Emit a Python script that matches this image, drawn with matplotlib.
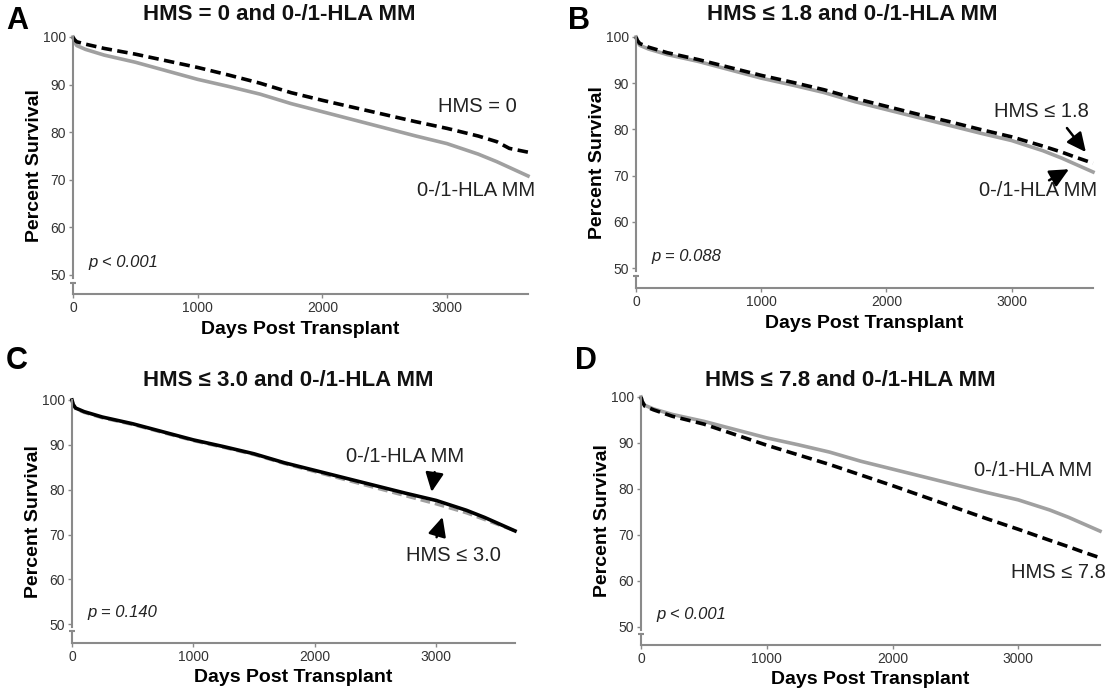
import matplotlib
matplotlib.use("Agg")
import matplotlib.pyplot as plt

plt.rcParams['font.family'] = ['Liberation Sans', 'DejaVu Sans']

days = [0, 10, 30, 100, 250, 500, 750, 1000, 1250, 1500, 1750, 2000,
        2250, 2500, 2750, 3000, 3250, 3400, 3500, 3650]

# 0-/1-HLA MM reference group (same cohort in every panel)
mm_ref = [100, 99.0, 98.2, 97.4, 96.2, 94.7, 92.9, 91.1, 89.6, 88.0, 86.0, 84.3,
          82.6, 80.9, 79.2, 77.6, 75.4, 73.8, 72.6, 70.8]
hms_0 = [100, 99.5, 99.0, 98.5, 97.6, 96.4, 95.0, 93.6, 92.0, 90.3, 88.3, 86.7,
         85.2, 83.7, 82.2, 80.8, 79.2, 78.0, 76.6, 75.8]
hms_18 = [100, 99.3, 98.6, 97.8, 96.6, 95.1, 93.4, 91.7, 90.2, 88.6, 86.7, 85.0,
          83.3, 81.7, 80.0, 78.4, 76.4, 75.1, 74.1, 72.7]
hms_30 = [100, 99.0, 98.0, 97.2, 96.0, 94.5, 92.7, 90.9, 89.4, 87.8, 85.8, 84.0,
          82.2, 80.4, 78.6, 76.8, 74.8, 73.3, 72.3, 70.8]
hms_78 = [100, 99.0, 98.0, 97.2, 95.8, 94.1, 91.8, 89.5, 87.4, 85.3, 83.0, 80.7,
          78.3, 75.9, 73.5, 71.2, 68.8, 67.4, 66.4, 65.0]

titles = ["HMS = 0 and 0-/1-HLA MM", "HMS \u2264 1.8 and 0-/1-HLA MM",
          "HMS \u2264 3.0 and 0-/1-HLA MM", "HMS \u2264 7.8 and 0-/1-HLA MM"]
letters = ["A", "B", "C", "D"]
pvals = ["p < 0.001", "p = 0.088", "p = 0.140", "p < 0.001"]
yticks = [50, 60, 70, 80, 90, 100]
xticks = [0, 1000, 2000, 3000]

W, H = 1115, 692
fig = plt.figure(figsize=(W / 100, H / 100), dpi=100)

# axes boxes in pixels: left, top, right, bottom
boxes = [(73, 37, 528, 294), (636, 37, 1093, 288),
         (72, 400, 515, 643), (641, 397, 1100, 645)]
ybottoms = [46.0, 45.7, 45.8, 46.0]

grey = '#a0a0a0'
spine_c = '#8a8a8a'
dash = (2.9, 1.5)


def px_axes(l, t, r, b):
    return fig.add_axes([l / W, 1 - b / H, (r - l) / W, (b - t) / H])


axes = []
for i, (l, t, r, b) in enumerate(boxes):
    ax = px_axes(l, t, r, b)
    ax.set_xlim(0, 3650)
    ax.set_ylim(ybottoms[i], 100)
    for s in ['top', 'right']:
        ax.spines[s].set_visible(False)
    for s in ['left', 'bottom']:
        ax.spines[s].set_color(spine_c)
        ax.spines[s].set_linewidth(1.5)
    ax.spines['left'].set_bounds(49.3, 100)
    # axis break below 50
    ax.plot([0, 0], [ybottoms[i], 48.4], color=spine_c, lw=1.5, clip_on=False)
    ax.plot([0], [48.4], marker='_', ms=5, mew=1.5, color=spine_c, clip_on=False)
    ax.set_yticks(yticks)
    ax.set_xticks(xticks)
    ax.tick_params(length=3, width=1, color=spine_c, labelsize=10,
                   labelcolor='#333333', pad=2)
    ax.set_ylabel("Percent Survival", fontsize=14, fontweight='bold', labelpad=0)
    ax.set_xlabel("Days Post Transplant", fontsize=14, fontweight='bold', labelpad=4)
    ax.text(125, 51.6, pvals[i], fontsize=12, style='italic', color='#222222')
    axes.append(ax)

lw = 2.6
axA, axB, axC, axD = axes
txt = dict(fontsize=14.5, ha='center', va='center', color='#222222')

axA.plot(days, mm_ref, color=grey, lw=lw, clip_on=False)
axA.plot(days, hms_0, color='black', lw=lw, dashes=dash, clip_on=False)
axA.text(3240, 85.5, "HMS = 0", **txt)
axA.text(3230, 67.8, "0-/1-HLA MM", **txt)

arrow = dict(arrowstyle='-|>,head_length=1.15,head_width=0.55', color='black', lw=1.8,
             shrinkA=0, shrinkB=0)

axB.plot(days, mm_ref, color=grey, lw=lw, clip_on=False)
axB.plot(days, hms_18, color='black', lw=lw, dashes=dash, clip_on=False)
axB.text(3235, 83.8, "HMS \u2264 1.8", **txt)
axB.text(3211, 66.9, "0-/1-HLA MM", **txt)
axB.annotate("", xy=(3593, 75.1), xytext=(3442, 80.3), arrowprops=arrow)
axB.annotate("", xy=(3458, 71.4), xytext=(3299, 69.0), arrowprops=arrow)

axC.plot(days, hms_30, color=grey, lw=2.2, dashes=(3.2, 1.6), clip_on=False)
axC.plot(days, mm_ref, color='black', lw=lw, clip_on=False)
axC.text(2741, 87.3, "0-/1-HLA MM", **txt)
axC.text(3144, 65.4, "HMS \u2264 3.0", **txt)
axC.annotate("", xy=(2963, 79.5), xytext=(2988, 83.9), arrowprops=arrow)
axC.annotate("", xy=(3053, 73.9), xytext=(3004, 69.4), arrowprops=arrow)

axD.plot(days, mm_ref, color=grey, lw=lw, clip_on=False)
axD.plot(days, hms_78, color='black', lw=lw, dashes=dash, clip_on=False)
axD.text(3120, 84.1, "0-/1-HLA MM", **txt)
axD.text(3320, 61.7, "HMS \u2264 7.8", **txt)

# panel titles and letters (pixel positions)
title_pos = [(279, 15), (852, 15), (288, 380), (850, 380)]
letter_pos = [(6, 21), (568, 21), (6, 361), (575, 361)]
for i in range(4):
    fig.text(title_pos[i][0] / W, 1 - title_pos[i][1] / H, titles[i], fontsize=16,
             fontweight='bold', ha='center', va='center', color='#111111')
    fig.text(letter_pos[i][0] / W, 1 - letter_pos[i][1] / H, letters[i], fontsize=22,
             fontweight='bold', ha='left', va='center', color='black')

fig.savefig("out.png", dpi=100)
